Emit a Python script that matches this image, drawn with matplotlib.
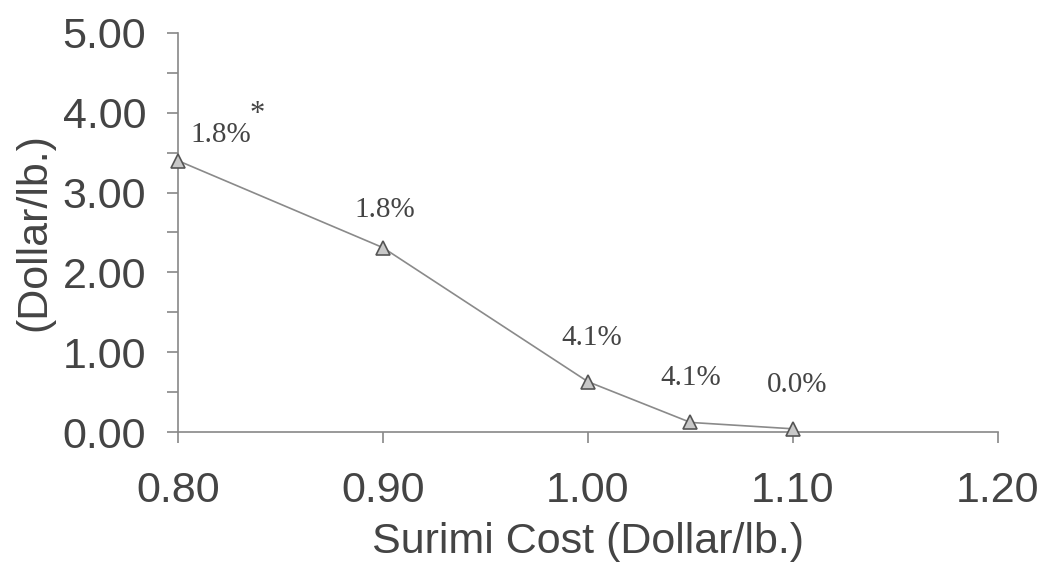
import matplotlib.pyplot as plt

cost = [0.80, 0.90, 1.00, 1.05, 1.10]
price = [3.40, 2.31, 0.63, 0.12, 0.04]
pct_labels = ['1.8%', '1.8%', '4.1%', '4.1%', '0.0%']
label_x = [0.821, 0.901, 1.002, 1.050, 1.102]
label_y = [3.72, 2.78, 1.18, 0.68, 0.59]
x_ticks = [0.80, 0.90, 1.00, 1.10, 1.20]
y_ticks = [0, 1, 2, 3, 4, 5]

fig = plt.figure(figsize=(10.39, 5.62), dpi=100)
ax = fig.add_axes([0.1713, 0.2313, 0.7892, 0.71])

ax.plot(cost, price, color='#8a8a8a', lw=1.2, marker='^', ms=10,
        mfc='#c8c8c8', mec='#555555', mew=1.2, zorder=3, clip_on=False)

for x, y, s in zip(label_x, label_y, pct_labels):
    ax.text(x, y, s, ha='center', va='center', fontsize=21,
            family='Liberation Serif', color='#444444')
ax.text(0.8385, 3.98, '*', ha='center', va='center', fontsize=22,
        family='Liberation Serif', color='#444444')

ax.set_xlim(0.80, 1.20)
ax.set_ylim(0, 5)
ax.set_xticks(x_ticks)
ax.set_xticklabels(['%.2f' % v for v in x_ticks])
ax.set_yticks(y_ticks)
ax.set_yticklabels(['%.2f' % v for v in y_ticks])
ax.set_yticks([0.5, 1.5, 2.5, 3.5, 4.5], minor=True)

for s in ['top', 'right']:
    ax.spines[s].set_visible(False)
for s in ['left', 'bottom']:
    ax.spines[s].set_color('#888888')
    ax.spines[s].set_linewidth(1.2)

ax.tick_params(which='both', direction='out', length=8, width=1.2,
               color='#888888', labelsize=31, labelcolor='#444444')
ax.tick_params(axis='x', pad=20)
ax.tick_params(axis='y', which='both', pad=15)
for lab in ax.get_xticklabels() + ax.get_yticklabels():
    lab.set_family('Liberation Sans')

ax.set_xlabel('Surimi Cost (Dollar/lb.)', fontsize=31, family='Liberation Sans',
              color='#444444', labelpad=8)
ax.set_ylabel('(Dollar/lb.)', fontsize=31, family='Liberation Sans',
              color='#444444', labelpad=6)

fig.savefig('out.png', dpi=100)
